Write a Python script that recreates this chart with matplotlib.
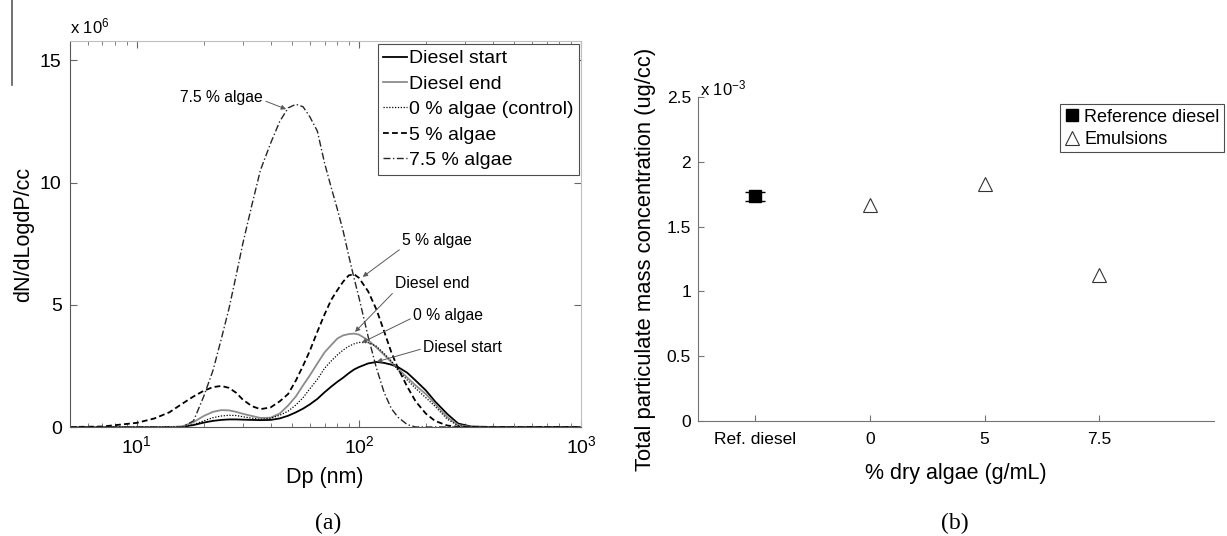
import numpy as np
import matplotlib.pyplot as plt
from matplotlib.lines import Line2D
from matplotlib.ticker import FuncFormatter, LogLocator, NullFormatter

plt.rcParams['font.family'] = ['Liberation Sans', 'DejaVu Sans']
plt.rcParams['mathtext.fontset'] = 'custom'
plt.rcParams['mathtext.rm'] = 'Liberation Sans'
plt.rcParams['mathtext.it'] = 'Liberation Sans:italic'
plt.rcParams['mathtext.bf'] = 'Liberation Sans:bold'

# (a) particle size distributions, dN/dLogDp in units of 1e6 #/cc
dp = [5, 7, 10, 12, 14, 16, 18, 20, 22, 24, 26, 28, 30, 33, 36, 40, 44, 48, 52, 56,
      60, 65, 70, 75, 80, 85, 90, 95, 100, 110, 120, 130, 140, 150, 165, 180, 200, 220,
      250, 280, 320, 400, 600, 1000]
diesel_start = [0, 0, 0, 0, 0, 0.01, 0.08, 0.18, 0.25, 0.29, 0.31, 0.31, 0.30, 0.29, 0.28,
                0.29, 0.35, 0.46, 0.60, 0.75, 0.92, 1.15, 1.42, 1.65, 1.85, 2.02, 2.20,
                2.35, 2.45, 2.60, 2.66, 2.62, 2.55, 2.45, 2.22, 1.90, 1.50, 1.05, 0.53,
                0.14, 0.02, 0, 0, 0]
diesel_end = [0, 0, 0, 0, 0, 0.02, 0.20, 0.45, 0.62, 0.69, 0.68, 0.62, 0.54, 0.45, 0.37,
              0.38, 0.55, 0.88, 1.25, 1.70, 2.10, 2.60, 3.05, 3.35, 3.62, 3.75, 3.80,
              3.82, 3.78, 3.55, 3.25, 2.95, 2.65, 2.38, 2.02, 1.70, 1.35, 0.95, 0.40,
              0.08, 0, 0, 0, 0]
algae_0 = [0, 0, 0, 0, 0, 0.01, 0.10, 0.25, 0.38, 0.45, 0.48, 0.47, 0.42, 0.36, 0.31,
           0.36, 0.48, 0.65, 0.90, 1.20, 1.55, 1.95, 2.40, 2.70, 2.95, 3.15, 3.30, 3.40,
           3.46, 3.45, 3.30, 3.00, 2.70, 2.32, 1.92, 1.58, 1.20, 0.85, 0.32, 0.05, 0,
           0, 0, 0]
algae_5 = [0, 0.02, 0.17, 0.35, 0.60, 0.95, 1.25, 1.48, 1.63, 1.68, 1.60, 1.40, 1.12,
           0.85, 0.73, 0.80, 1.05, 1.35, 1.90, 2.50, 3.10, 3.90, 4.60, 5.20, 5.60, 5.95,
           6.20, 6.25, 6.10, 5.55, 4.80, 3.90, 3.05, 2.40, 1.65, 1.05, 0.55, 0.25, 0.06,
           0.01, 0, 0, 0, 0]
algae_7_5 = [0, 0, 0, 0, 0, 0, 0.25, 1.25, 2.30, 3.60, 4.85, 6.20, 7.50, 9.10, 10.5,
             11.6, 12.5, 13.05, 13.2, 13.1, 12.7, 12.1, 10.8, 9.8, 8.9, 8.0, 7.0, 6.1,
             5.3, 3.7, 2.4, 1.4, 0.75, 0.40, 0.10, 0, 0, 0, 0, 0, 0, 0, 0, 0]

# (b) total particulate mass concentration, units of 1e-3 ug/cc
fuel_labels = ['Ref. diesel', '0', '5', '7.5']
tpm_ref = [1.735]
tpm_ref_err = [0.035]
tpm_emulsions = [1.665, 1.83, 1.125]

W, H = 1227, 536
fig = plt.figure(figsize=(W / 100, H / 100), dpi=100)


def fxy(x, y):
    # pixel position -> figure fraction
    return x / W, 1 - y / H


# ---------------- (a) ----------------
ax1 = fig.add_axes([70 / W, 1 - 427 / H, 511 / W, 386.3 / H])
dp_arr = np.array(dp)
ax1.plot(dp_arr, np.array(diesel_start) * 1e6, color='black', lw=1.3, label='Diesel start')
ax1.plot(dp_arr, np.array(diesel_end) * 1e6, color='0.55', lw=1.3, label='Diesel end')
ax1.plot(dp_arr, np.array(algae_0) * 1e6, color='black', lw=0.9, ls=(0, (1, 1.3)),
         label='0 % algae (control)')
ax1.plot(dp_arr, np.array(algae_5) * 1e6, color='black', lw=1.3, ls=(0, (3.2, 1.8)),
         label='5 % algae')
ax1.plot(dp_arr, np.array(algae_7_5) * 1e6, color='0.15', lw=1.0,
         ls=(0, (5, 1.8, 1, 1.8)), label='7.5 % algae')

ax1.set_xscale('log')
ax1.set_xlim(5, 1000)
ax1.set_ylim(0, 15.8e6)
ax1.set_yticks([0, 5e6, 10e6, 15e6])
ax1.yaxis.set_major_formatter(FuncFormatter(lambda v, p: f'{v / 1e6:g}'))
ax1.xaxis.set_major_locator(LogLocator(base=10))
ax1.xaxis.set_minor_formatter(NullFormatter())
ax1.tick_params(which='both', direction='in', top=True, right=True, colors='0.4',
                labelcolor='black', labelsize=14)
ax1.tick_params(which='major', length=5, pad=6)
ax1.tick_params(which='minor', length=3)
for side in ['left', 'bottom']:
    ax1.spines[side].set_color('0.35')
for side in ['top', 'right']:
    ax1.spines[side].set_color('0.75')

leg1 = ax1.legend(loc='upper right', bbox_to_anchor=fxy(579, 44),
                  bbox_transform=fig.transFigure, borderaxespad=0, fontsize=14,
                  fancybox=False, edgecolor='0.3', framealpha=1, handlelength=1.2,
                  handletextpad=0.1, labelspacing=0.4, borderpad=0.3)
leg1.get_frame().set_linewidth(0.8)

# labelled arrows pointing at each curve
notes = [
    ('7.5 % algae', (47, 13.0e6), (37, 13.49e6), 'right', (1, 0.3)),
    ('5 % algae', (104, 6.14e6), (156.5, 7.64e6), 'left', (0, 0)),
    ('Diesel end', (96, 3.89e6), (145.5, 5.88e6), 'left', (0, 0)),
    ('0 % algae', (103, 3.45e6), (175.4, 4.54e6), 'left', (0, 0.4)),
    ('Diesel start', (120.4, 2.67e6), (194.5, 3.27e6), 'left', (0, 0.4)),
]
for text, tip, pos, ha, rel in notes:
    ax1.annotate(text, xy=tip, xytext=pos, ha=ha, va='center', fontsize=11.3,
                 arrowprops=dict(arrowstyle='-|>', color='0.35', lw=0.7,
                                 mutation_scale=7, shrinkA=0, shrinkB=0,
                                 relpos=rel))

fig.text(*fxy(70, 26), r'x 10$^{6}$', fontsize=12, ha='left', va='center')
fig.text(*fxy(24, 234), 'dN/dLogdP/cc', fontsize=15.5, rotation=90,
         ha='center', va='center')
fig.text(*fxy(325, 478), 'Dp (nm)', fontsize=15.5, ha='center', va='center')
fig.text(*fxy(328, 523), '(a)', fontsize=17, family='Liberation Serif',
         ha='center', va='center')
fig.add_artist(Line2D([12 / W, 12 / W], [1, 1 - 85 / H], color='0.35', lw=1.2,
                      transform=fig.transFigure))

# ---------------- (b) ----------------
ax2 = fig.add_axes([698 / W, 1 - 421 / H, 516 / W, 324 / H])
xpos = np.arange(1, len(fuel_labels) + 1)
ax2.errorbar(xpos[:1], np.array(tpm_ref) * 1e-3, yerr=np.array(tpm_ref_err) * 1e-3,
             fmt='s', color='black', ms=8.5, capsize=7, elinewidth=1, capthick=1)
ax2.plot(xpos[1:], np.array(tpm_emulsions) * 1e-3, ls='none', marker='^', ms=10,
         mfc='white', mec='0.2', mew=0.8)

ax2.set_xlim(0.5, 5)
ax2.set_ylim(0, 2.5e-3)
ax2.set_xticks(xpos)
ax2.set_xticklabels(fuel_labels)
ax2.set_yticks(np.arange(0, 2.51e-3, 0.5e-3))
ax2.yaxis.set_major_formatter(FuncFormatter(lambda v, p: f'{v / 1e-3:g}'))
ax2.tick_params(direction='in', length=4, colors='0.45', labelcolor='black',
                labelsize=12.5)
ax2.tick_params(axis='x', pad=8)
ax2.tick_params(axis='y', pad=5)
ax2.spines['top'].set_visible(False)
ax2.spines['right'].set_visible(False)
ax2.spines['left'].set_color('0.45')
ax2.spines['bottom'].set_color('0.45')

handles = [Line2D([], [], ls='none', marker='s', ms=8.5, color='black'),
           Line2D([], [], ls='none', marker='^', ms=10, mfc='white', mec='0.2',
                  mew=0.8)]
leg2 = ax2.legend(handles, ['Reference diesel', 'Emulsions'], loc='upper left',
                  bbox_to_anchor=fxy(1060, 104), bbox_transform=fig.transFigure,
                  borderaxespad=0, fontsize=13, fancybox=False, edgecolor='0.3',
                  framealpha=1, handlelength=0.8, handletextpad=0.3,
                  labelspacing=0.3, borderpad=0.25)
leg2.get_frame().set_linewidth(0.8)

fig.text(*fxy(700, 88), r'x 10$^{-3}$', fontsize=12, ha='left', va='center')
fig.text(*fxy(645, 259), 'Total particulate mass concentration (ug/cc)',
         fontsize=15.8, rotation=90, ha='center', va='center')
fig.text(*fxy(956, 473), '% dry algae (g/mL)', fontsize=15.5, ha='center',
         va='center')
fig.text(*fxy(955, 523), '(b)', fontsize=17, family='Liberation Serif',
         ha='center', va='center')

fig.savefig('out.png', dpi=100)
